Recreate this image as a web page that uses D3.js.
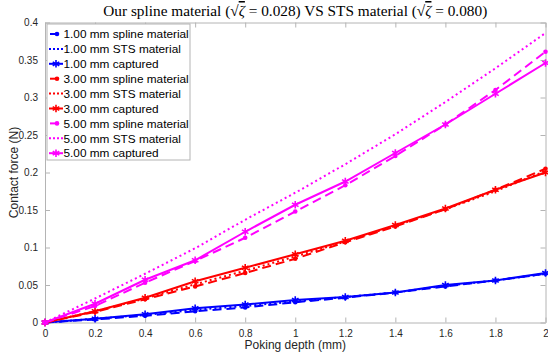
<!DOCTYPE html>
<html>
<head>
<meta charset="utf-8">
<script src="https://cdn.jsdelivr.net/npm/d3@7"></script>
<style>
  body { margin: 0; background: #fff; }
  svg text { font-family: "Liberation Sans", Arial, sans-serif; }
  .tick text { fill: #262626; font-size: 10px; }
  .title { font-family: "Liberation Serif", serif; }
</style>
</head>
<body>
<div class="chart-container"></div>
<script>
var depth = [0, 0.2, 0.4, 0.6, 0.8, 1.0, 1.2, 1.4, 1.6, 1.8, 2.0];

var spline1 = [0, 0.004, 0.009, 0.015, 0.020, 0.027, 0.033, 0.040, 0.048, 0.056, 0.065];
var sts1 = [0, 0.005, 0.010, 0.017, 0.022, 0.028, 0.034, 0.040, 0.049, 0.056, 0.065];
var captured1 = [0, 0.005, 0.011, 0.019, 0.024, 0.030, 0.034, 0.040, 0.050, 0.056, 0.066];

var spline3 = [0, 0.014, 0.031, 0.048, 0.066, 0.085, 0.107, 0.128, 0.151, 0.177, 0.205];
var sts3 = [0, 0.015, 0.032, 0.051, 0.069, 0.088, 0.108, 0.129, 0.151, 0.175, 0.202];
var captured3 = [0, 0.015, 0.033, 0.055, 0.073, 0.091, 0.109, 0.130, 0.152, 0.177, 0.200];

var spline5 = [0, 0.022, 0.053, 0.082, 0.113, 0.148, 0.183, 0.222, 0.264, 0.310, 0.361];
var sts5 = [0, 0.032, 0.065, 0.099, 0.137, 0.173, 0.211, 0.251, 0.294, 0.339, 0.386];
var captured5 = [0, 0.025, 0.057, 0.083, 0.121, 0.157, 0.188, 0.226, 0.264, 0.305, 0.346];

var xTicks = [0, 0.2, 0.4, 0.6, 0.8, 1, 1.2, 1.4, 1.6, 1.8, 2];
var yTicks = [0, 0.05, 0.1, 0.15, 0.2, 0.25, 0.3, 0.35, 0.4];

var series = [
  {name: '1.00 mm spline material', values: spline1, color: '#0000ff', kind: 'spline'},
  {name: '1.00 mm STS material', values: sts1, color: '#0000ff', kind: 'sts'},
  {name: '1.00 mm captured', values: captured1, color: '#0000ff', kind: 'captured'},
  {name: '3.00 mm spline material', values: spline3, color: '#ff0000', kind: 'spline'},
  {name: '3.00 mm STS material', values: sts3, color: '#ff0000', kind: 'sts'},
  {name: '3.00 mm captured', values: captured3, color: '#ff0000', kind: 'captured'},
  {name: '5.00 mm spline material', values: spline5, color: '#ff00ff', kind: 'spline'},
  {name: '5.00 mm STS material', values: sts5, color: '#ff00ff', kind: 'sts'},
  {name: '5.00 mm captured', values: captured5, color: '#ff00ff', kind: 'captured'}
];

var margin = {top: 22.5, right: 2.5, bottom: 35.5, left: 45};
var totalW = 548, totalH = 358;
var width = totalW - margin.left - margin.right;
var height = totalH - margin.top - margin.bottom;

var axisColor = '#b4b4b4';
var dashes = {spline: '9,5', sts: '2,3', captured: null};

var svg = d3.select('.chart-container').append('svg')
  .attr('width', totalW)
  .attr('height', totalH);

var x = d3.scaleLinear().domain([0, 2]).range([margin.left, margin.left + width]);
var y = d3.scaleLinear().domain([0, 0.4]).range([margin.top + height, margin.top]);

// box + ticks on all four sides
function styleAxis(g) {
  g.select('.domain').attr('stroke', axisColor);
  g.selectAll('.tick line').attr('stroke', axisColor);
}

svg.append('g')
  .attr('transform', `translate(0,${margin.top + height})`)
  .call(d3.axisBottom(x).tickValues(xTicks).tickSizeInner(-5).tickSizeOuter(0).tickPadding(7).tickFormat(d3.format('')))
  .call(styleAxis);
svg.append('g')
  .attr('transform', `translate(0,${margin.top})`)
  .call(d3.axisTop(x).tickValues(xTicks).tickSizeInner(-5).tickSizeOuter(0).tickFormat(''))
  .call(styleAxis);
svg.append('g')
  .attr('transform', `translate(${margin.left},0)`)
  .call(d3.axisLeft(y).tickValues(yTicks).tickSizeInner(-5).tickSizeOuter(0).tickPadding(7).tickFormat(d3.format('')))
  .call(styleAxis);
svg.append('g')
  .attr('transform', `translate(${margin.left + width},0)`)
  .call(d3.axisRight(y).tickValues(yTicks).tickSizeInner(-5).tickSizeOuter(0).tickFormat(''))
  .call(styleAxis);

var line = d3.line()
  .x((d, i) => x(depth[i]))
  .y(d => y(d));

var star = d3.symbol().type(d3.symbolAsterisk || d3.symbolCross).size(40);

function drawMarkers(g, kind, color, pts) {
  if (kind === 'spline') {
    g.selectAll('circle')
      .data(pts)
      .enter().append('circle')
      .attr('cx', d => d[0]).attr('cy', d => d[1])
      .attr('r', 2.3).attr('fill', color);
  } else if (kind === 'captured') {
    g.selectAll('path.mk')
      .data(pts)
      .enter().append('path')
      .attr('class', 'mk')
      .attr('d', star)
      .attr('transform', d => `translate(${d[0]},${d[1]})`)
      .attr('fill', 'none')
      .attr('stroke', color)
      .attr('stroke-width', 1.6);
  }
}

series.forEach(s => {
  var g = svg.append('g');
  g.append('path')
    .datum(s.values)
    .attr('d', line)
    .attr('fill', 'none')
    .attr('stroke', s.color)
    .attr('stroke-width', 2)
    .attr('stroke-dasharray', dashes[s.kind]);
  drawMarkers(g, s.kind, s.color, s.values.map((v, i) => [x(depth[i]), y(v)]));
});

/*
 * Legend
 */
var legend = svg.append('g').attr('transform', 'translate(47,24)');
legend.append('rect')
  .attr('width', 143).attr('height', 136)
  .attr('fill', '#fff').attr('stroke', axisColor).attr('stroke-width', 1);

series.forEach((s, i) => {
  var ly = 10 + i * 14.9;
  var entry = legend.append('g').attr('transform', `translate(0,${ly})`);
  entry.append('line')
    .attr('x1', s.kind === 'spline' ? 3 : 2).attr('x2', s.kind === 'spline' ? 9 : 16)
    .attr('stroke', s.color).attr('stroke-width', 2)
    .attr('stroke-dasharray', s.kind === 'sts' ? '2,2' : null);
  drawMarkers(entry, s.kind, s.color, [[s.kind === 'spline' ? 10 : 9, 0]]);
  entry.append('text')
    .attr('x', 16.5).attr('y', 4.2)
    .attr('font-size', 11.8).attr('fill', '#000')
    .text(s.name);
});

/*
 * Labels
 */
svg.append('text')
  .attr('x', margin.left + width / 2).attr('y', 349)
  .attr('text-anchor', 'middle').attr('font-size', 12).attr('fill', '#262626')
  .text('Poking depth (mm)');
svg.append('text')
  .attr('transform', `translate(17.5,${margin.top + height / 2}) rotate(-90)`)
  .attr('text-anchor', 'middle').attr('font-size', 12).attr('fill', '#262626')
  .text('Contact force (N)');

var title = svg.append('text')
  .attr('class', 'title')
  .attr('x', margin.left + width / 2).attr('y', 16)
  .attr('text-anchor', 'middle').attr('font-size', 15.3).attr('fill', '#000');
function zeta(t, val) {
  t.append('tspan').text('\u221A');
  t.append('tspan').attr('font-style', 'italic').style('text-decoration', 'overline').text('\u03B6');
  t.append('tspan').text(' = ' + val + ')');
}
title.append('tspan').text('Our spline material (');
zeta(title, '0.028');
title.append('tspan').text(' VS STS material (');
zeta(title, '0.080');
</script>
</body>
</html>
